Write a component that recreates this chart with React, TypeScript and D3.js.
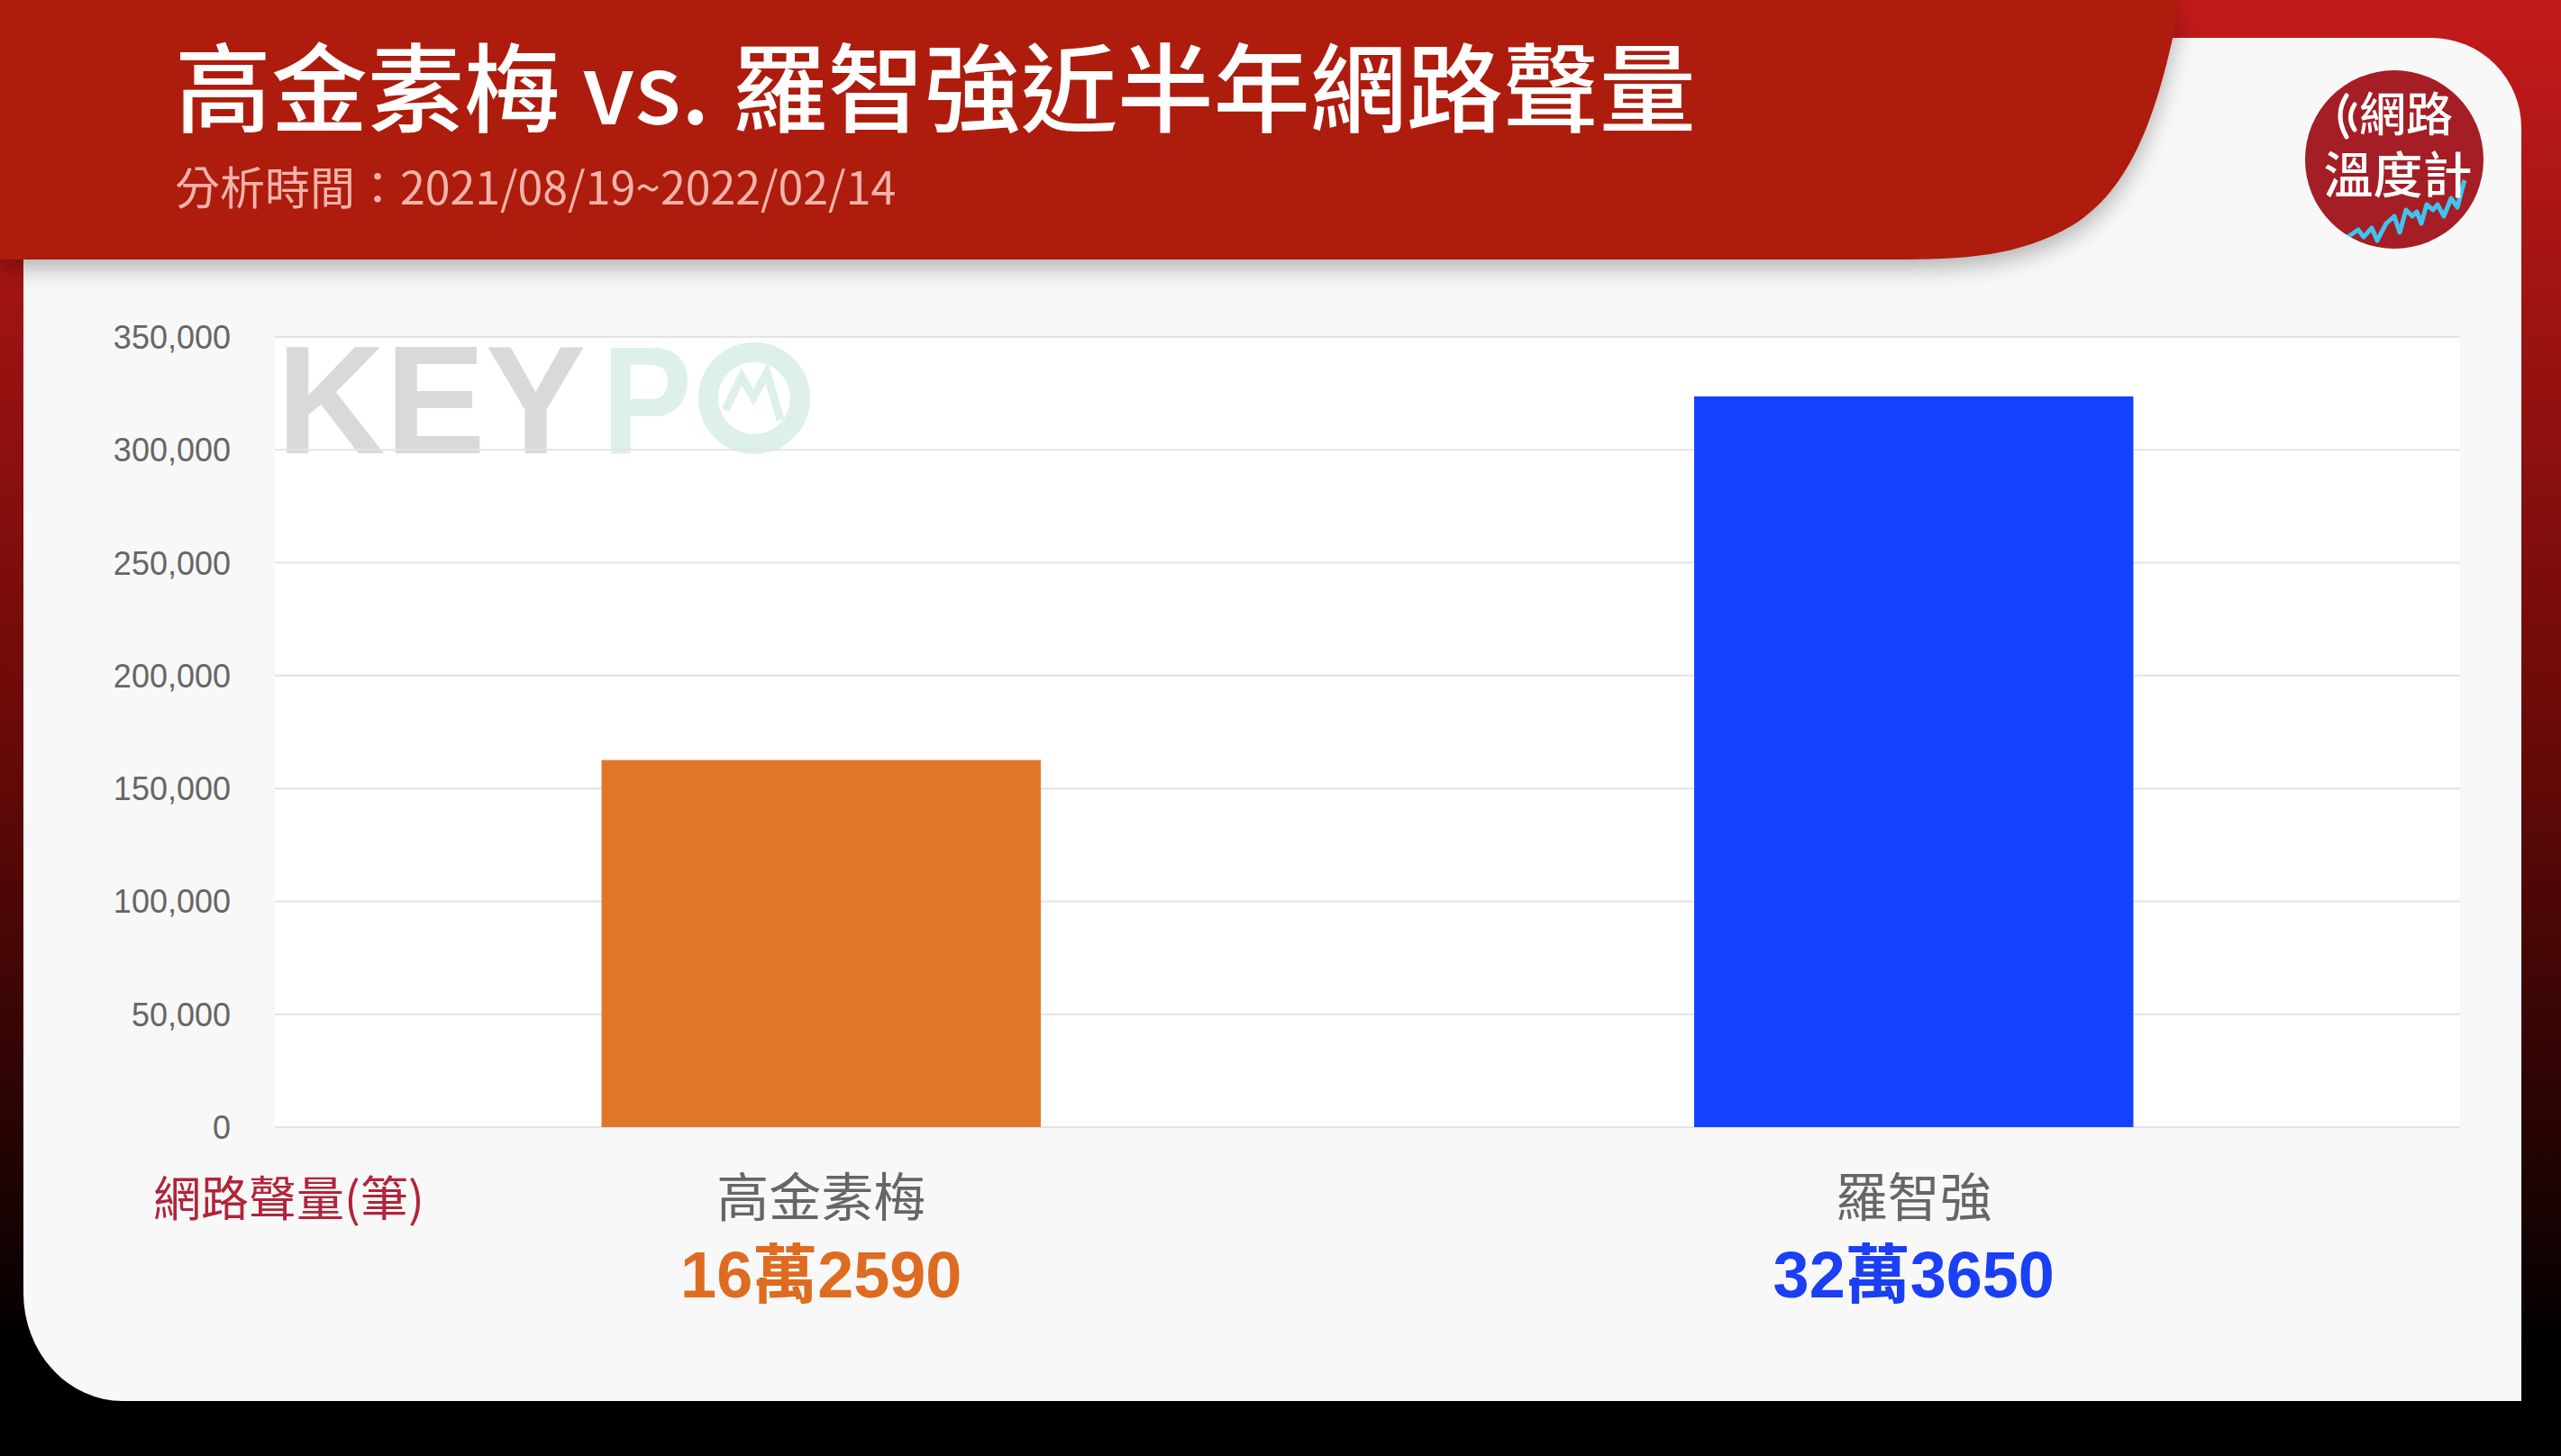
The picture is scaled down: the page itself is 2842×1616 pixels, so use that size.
import React from 'react';
import * as d3 from 'd3';

const W = 2842;
const H = 1616;

const categories = ['高金素梅', '羅智強'];
const values = [162590, 323650];
const valueLabels = ['16萬2590', '32萬3650'];
const barColors = ['#e07629', '#1440ff'];
const labelColors = ['#de6b20', '#1a3ff5'];
const yTicks = [0, 50000, 100000, 150000, 200000, 250000, 300000, 350000];

const titleText = '高金素梅 vs. 羅智強近半年網路聲量';
const subtitleText = '分析時間：2021/08/19~2022/02/14';
const yAxisTitle = '網路聲量(筆)';

const CJK = '"Noto Sans CJK TC", "Noto Sans CJK SC", sans-serif';
const LAT = '"Liberation Sans", Arial, "Noto Sans CJK TC", sans-serif';

const plot = { left: 305, right: 2730, top: 374, bottom: 1251 };

export default function App() {
  const y = d3.scaleLinear().domain([0, 350000]).range([plot.bottom, plot.top]);
  const x = d3
    .scaleBand<string>()
    .domain(categories)
    .range([plot.left, plot.right])
    .paddingInner(0.598)
    .paddingOuter(0.299);
  const fmt = d3.format(',');

  const logoCx = 2657;
  const logoCy = 177;
  const logoR = 99;
  const wave: [number, number][] = [
    [2590, 270], [2607, 262], [2617, 255], [2623, 263], [2632, 253], [2638, 267],
    [2648, 248], [2657, 240], [2663, 258], [2670, 233], [2677, 240], [2682, 235],
    [2687, 248], [2693, 227], [2700, 233], [2705, 227], [2712, 240], [2720, 220],
    [2727, 230], [2733, 207], [2735, 200],
  ];
  const waveLine = d3.line()(wave) || '';
  const kz: [number, number][] = [[805, 455], [823, 418], [836, 441], [851, 414], [866, 466]];
  const kzLine = d3.line()(kz) || '';

  return (
    <svg
      width={W}
      height={H}
      viewBox={`0 0 ${W} ${H}`}
      style={{ position: 'absolute', left: 0, top: 0, display: 'block' }}
    >
      <defs>
        <linearGradient id="bg" x1="0" y1="0" x2="0" y2="1">
          <stop offset="0" stopColor="#c41a1a" />
          <stop offset="0.5" stopColor="#6a0a08" />
          <stop offset="0.93" stopColor="#000000" />
          <stop offset="1" stopColor="#000000" />
        </linearGradient>
        <filter id="hdrShadow" x="-5%" y="-20%" width="110%" height="150%">
          <feDropShadow dx="0" dy="10" stdDeviation="12" floodColor="#000" floodOpacity="0.28" />
        </filter>
        <clipPath id="logoClip">
          <circle cx={logoCx} cy={logoCy} r={logoR} />
        </clipPath>
      </defs>

      {/* background */}
      <rect x={0} y={0} width={W} height={H} fill="url(#bg)" />

      {/* card */}
      <path
        d="M26,42 H2698 A100,100 0 0 1 2798,142 V1555 H136 A110,120 0 0 1 26,1435 Z"
        fill="#f8f8f8"
      />

      {/* plot area */}
      <rect
        x={plot.left}
        y={plot.top}
        width={plot.right - plot.left}
        height={plot.bottom - plot.top}
        fill="#ffffff"
      />

      {/* watermark */}
      <g>
        <text
          x={307}
          y={503}
          fontFamily={LAT}
          fontWeight="bold"
          fontSize={170}
          fill="#d9d9d9"
          textLength={343}
          lengthAdjust="spacingAndGlyphs"
        >
          KEY
        </text>
        <text
          x={668}
          y={503}
          fontFamily={LAT}
          fontWeight="bold"
          fontSize={170}
          fill="#ddf0eb"
          textLength={100}
          lengthAdjust="spacingAndGlyphs"
        >
          P
        </text>
        <circle cx={837} cy={442} r={51} fill="none" stroke="#ddf0eb" strokeWidth={22} />
        <path d={kzLine} fill="none" stroke="#ddf0eb" strokeWidth={9} strokeLinejoin="miter" />
      </g>

      {/* gridlines */}
      {yTicks.map((t) => (
        <line
          key={t}
          x1={plot.left}
          x2={plot.right}
          y1={y(t)}
          y2={y(t)}
          stroke="#e3e3e3"
          strokeWidth={2}
        />
      ))}

      {/* y tick labels */}
      {yTicks.map((t) => (
        <text
          key={'l' + t}
          x={256}
          y={y(t) + 13}
          textAnchor="end"
          fontFamily={LAT}
          fontSize={36}
          fill="#666666"
        >
          {fmt(t)}
        </text>
      ))}

      {/* bars */}
      {categories.map((c, i) => (
        <rect
          key={c}
          x={x(c)}
          y={y(values[i])}
          width={x.bandwidth()}
          height={y(0) - y(values[i])}
          fill={barColors[i]}
        />
      ))}

      {/* category labels */}
      {categories.map((c) => (
        <text
          key={'c' + c}
          x={(x(c) || 0) + x.bandwidth() / 2}
          y={1350}
          textAnchor="middle"
          fontFamily={CJK}
          fontSize={58}
          fill="#666666"
        >
          {c}
        </text>
      ))}

      {/* value labels */}
      {categories.map((c, i) => (
        <text
          key={'v' + c}
          x={(x(c) || 0) + x.bandwidth() / 2}
          y={1440}
          textAnchor="middle"
          fontFamily={LAT}
          fontWeight="bold"
          fontSize={72}
          fill={labelColors[i]}
        >
          {valueLabels[i]}
        </text>
      ))}

      {/* y axis title */}
      <text x={170} y={1350} fontFamily={CJK} fontSize={53} fill="#b1243a">
        {yAxisTitle}
      </text>

      {/* header */}
      <path
        d="M0,0 H2420 C2398,110 2372,205 2300,250 C2240,285 2180,288 2100,288 H0 Z"
        fill="#ad1a10"
        filter="url(#hdrShadow)"
      />
      <text x={194} y={138} fontFamily={CJK} fontWeight={500} fontSize={107} fill="#ffffff">
        {titleText}
      </text>
      <text x={194} y={227} fontFamily={CJK} fontSize={50} fill="#f2b3aa">
        {subtitleText}
      </text>

      {/* logo */}
      <circle cx={logoCx} cy={logoCy} r={logoR} fill="#a51d25" />
      <g clipPath="url(#logoClip)">
        <path d={waveLine} fill="none" stroke="#3fc4ee" strokeWidth={5} strokeLinejoin="round" />
      </g>
      <path d="M2604,106 Q2590,128 2604,152" fill="none" stroke="#fff" strokeWidth={5} strokeLinecap="round" />
      <path d="M2613,116 Q2604,130 2613,144" fill="none" stroke="#fff" strokeWidth={5} strokeLinecap="round" />
      <text x={2670} y={146} textAnchor="middle" fontFamily={CJK} fontWeight={500} fontSize={52} fill="#ffffff">
        網路
      </text>
      <text x={2661} y={214} textAnchor="middle" fontFamily={CJK} fontWeight={500} fontSize={55} fill="#ffffff">
        溫度計
      </text>
    </svg>
  );
}
